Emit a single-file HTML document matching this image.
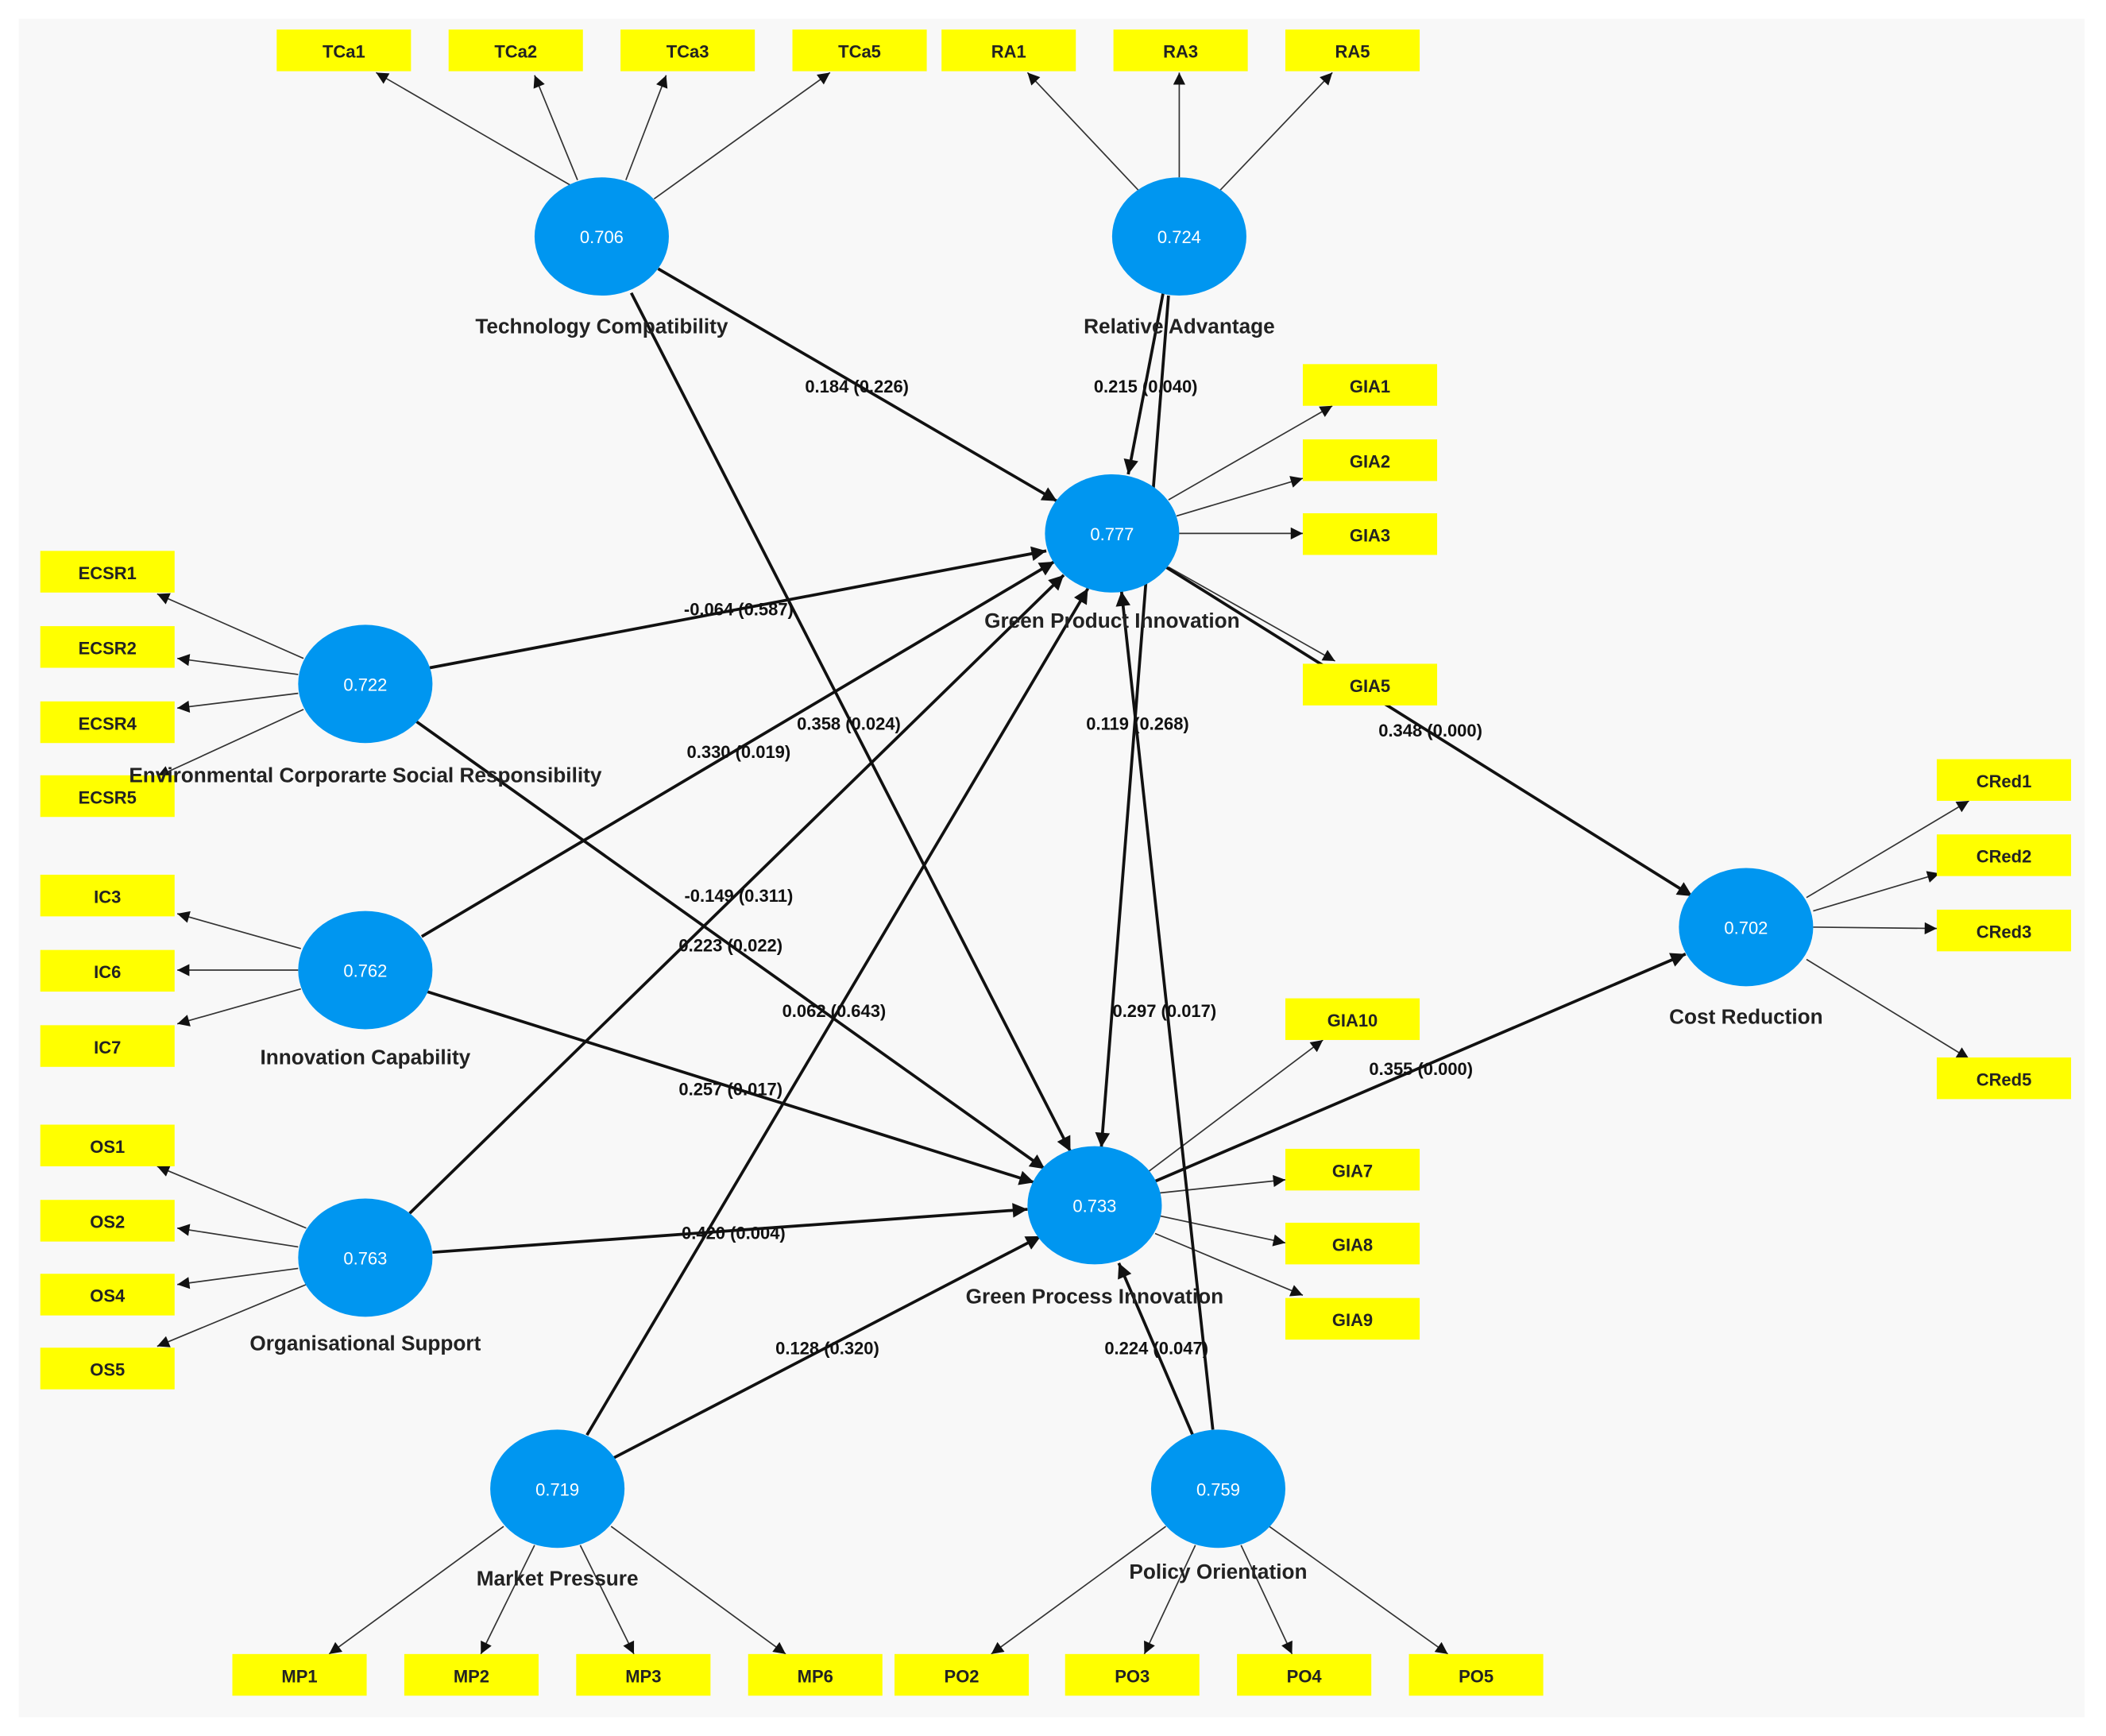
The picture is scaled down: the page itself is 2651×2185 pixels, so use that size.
<!DOCTYPE html>
<html><head><meta charset="utf-8">
<style>
html,body{margin:0;padding:0;background:#fff;}
svg{display:block;}
text{font-family:"Liberation Sans",Arial,sans-serif;}
.b{fill:#ffff00;}
.bt{font-size:13px;fill:#222;text-anchor:middle;font-weight:bold;}
.lbl{font-size:13px;fill:#111;text-anchor:middle;font-weight:bold;}
.nm{font-size:15.5px;fill:#222;text-anchor:middle;font-weight:bold;}
.val{font-size:13px;fill:#fff;text-anchor:middle;}
.th{stroke:#333;stroke-width:1;fill:none;}
.tk{stroke:#111;stroke-width:2.2;fill:none;}
</style></head><body>
<svg width="2651" height="2185" viewBox="0 0 1568 1292" preserveAspectRatio="none" xmlns="http://www.w3.org/2000/svg">
<defs>
<marker id="a" viewBox="0 0 10 10" refX="10" refY="5" markerWidth="11" markerHeight="9" markerUnits="userSpaceOnUse" orient="auto"><path d="M0,0 L10,5 L0,10 z" fill="#111"/></marker>
<marker id="A" viewBox="0 0 10 10" refX="10" refY="5" markerWidth="14" markerHeight="11" markerUnits="userSpaceOnUse" orient="auto"><path d="M0,0 L10,5 L0,10 z" fill="#111"/></marker>
</defs>
<rect x="0" y="0" width="1568" height="1292" fill="#fff"/>
<rect x="14" y="14" width="1538" height="1264" fill="#f8f8f8"/>

<!-- indicator lines -->
<g class="th" marker-end="url(#a)">
<line x1="425" y1="138" x2="280" y2="54"/>
<line x1="430" y1="134" x2="398" y2="56"/>
<line x1="466" y1="134" x2="496" y2="56"/>
<line x1="487" y1="148" x2="618" y2="54"/>
<line x1="848" y1="142" x2="765" y2="54"/>
<line x1="878" y1="132" x2="878" y2="54"/>
<line x1="908" y1="142" x2="992" y2="54"/>
<line x1="870" y1="372" x2="992" y2="302"/>
<line x1="876" y1="384" x2="970" y2="356"/>
<line x1="878" y1="397" x2="970" y2="397"/>
<line x1="870" y1="422" x2="994" y2="492"/>
<line x1="226" y1="490" x2="117" y2="442"/>
<line x1="222" y1="502" x2="132" y2="490"/>
<line x1="222" y1="516" x2="132" y2="527"/>
<line x1="226" y1="528" x2="117" y2="578"/>
<line x1="224" y1="706" x2="132" y2="680"/>
<line x1="222" y1="722" x2="132" y2="722"/>
<line x1="224" y1="736" x2="132" y2="762"/>
<line x1="228" y1="914" x2="117" y2="868"/>
<line x1="222" y1="928" x2="132" y2="914"/>
<line x1="222" y1="944" x2="132" y2="956"/>
<line x1="228" y1="956" x2="117" y2="1002"/>
<line x1="1345" y1="668" x2="1466" y2="596"/>
<line x1="1350" y1="678" x2="1444" y2="650"/>
<line x1="1350" y1="690" x2="1442" y2="691"/>
<line x1="1345" y1="714" x2="1466" y2="788"/>
<line x1="855" y1="872" x2="985" y2="774"/>
<line x1="862" y1="888" x2="957" y2="878"/>
<line x1="864" y1="905" x2="957" y2="925"/>
<line x1="860" y1="918" x2="970" y2="964"/>
<line x1="375" y1="1136" x2="245" y2="1231"/>
<line x1="398" y1="1150" x2="358" y2="1231"/>
<line x1="432" y1="1150" x2="472" y2="1231"/>
<line x1="455" y1="1136" x2="585" y2="1231"/>
<line x1="868" y1="1136" x2="738" y2="1231"/>
<line x1="890" y1="1150" x2="852" y2="1231"/>
<line x1="924" y1="1150" x2="962" y2="1231"/>
<line x1="945" y1="1136" x2="1078" y2="1231"/>
</g>

<!-- structural lines -->
<g class="tk" marker-end="url(#A)">
<line x1="490" y1="200" x2="787" y2="373"/>
<line x1="866" y1="218" x2="840" y2="353"/>
<line x1="320" y1="497" x2="779" y2="410"/>
<line x1="314" y1="697" x2="785" y2="418"/>
<line x1="305" y1="903" x2="792" y2="428"/>
<line x1="437" y1="1068" x2="810" y2="438"/>
<line x1="903" y1="1064" x2="835" y2="440"/>
<line x1="470" y1="218" x2="797" y2="857"/>
<line x1="870" y1="220" x2="820" y2="854"/>
<line x1="310" y1="537" x2="778" y2="870"/>
<line x1="318" y1="738" x2="770" y2="880"/>
<line x1="322" y1="932" x2="765" y2="900"/>
<line x1="455" y1="1086" x2="775" y2="920"/>
<line x1="888" y1="1068" x2="833" y2="940"/>
<line x1="868" y1="422" x2="1260" y2="667"/>
<line x1="858" y1="880" x2="1255" y2="710"/>
</g>

<!-- yellow boxes -->
<g>
<rect class="b" x="206" y="22" width="100" height="31"/><text class="bt" x="256" y="43">TCa1</text>
<rect class="b" x="334" y="22" width="100" height="31"/><text class="bt" x="384" y="43">TCa2</text>
<rect class="b" x="462" y="22" width="100" height="31"/><text class="bt" x="512" y="43">TCa3</text>
<rect class="b" x="590" y="22" width="100" height="31"/><text class="bt" x="640" y="43">TCa5</text>
<rect class="b" x="701" y="22" width="100" height="31"/><text class="bt" x="751" y="43">RA1</text>
<rect class="b" x="829" y="22" width="100" height="31"/><text class="bt" x="879" y="43">RA3</text>
<rect class="b" x="957" y="22" width="100" height="31"/><text class="bt" x="1007" y="43">RA5</text>
<rect class="b" x="970" y="271" width="100" height="31"/><text class="bt" x="1020" y="292">GIA1</text>
<rect class="b" x="970" y="327" width="100" height="31"/><text class="bt" x="1020" y="348">GIA2</text>
<rect class="b" x="970" y="382" width="100" height="31"/><text class="bt" x="1020" y="403">GIA3</text>
<rect class="b" x="970" y="494" width="100" height="31"/><text class="bt" x="1020" y="515">GIA5</text>
<rect class="b" x="30" y="410" width="100" height="31"/><text class="bt" x="80" y="431">ECSR1</text>
<rect class="b" x="30" y="466" width="100" height="31"/><text class="bt" x="80" y="487">ECSR2</text>
<rect class="b" x="30" y="522" width="100" height="31"/><text class="bt" x="80" y="543">ECSR4</text>
<rect class="b" x="30" y="577" width="100" height="31"/><text class="bt" x="80" y="598">ECSR5</text>
<rect class="b" x="30" y="651" width="100" height="31"/><text class="bt" x="80" y="672">IC3</text>
<rect class="b" x="30" y="707" width="100" height="31"/><text class="bt" x="80" y="728">IC6</text>
<rect class="b" x="30" y="763" width="100" height="31"/><text class="bt" x="80" y="784">IC7</text>
<rect class="b" x="30" y="837" width="100" height="31"/><text class="bt" x="80" y="858">OS1</text>
<rect class="b" x="30" y="893" width="100" height="31"/><text class="bt" x="80" y="914">OS2</text>
<rect class="b" x="30" y="948" width="100" height="31"/><text class="bt" x="80" y="969">OS4</text>
<rect class="b" x="30" y="1003" width="100" height="31"/><text class="bt" x="80" y="1024">OS5</text>
<rect class="b" x="1442" y="565" width="100" height="31"/><text class="bt" x="1492" y="586">CRed1</text>
<rect class="b" x="1442" y="621" width="100" height="31"/><text class="bt" x="1492" y="642">CRed2</text>
<rect class="b" x="1442" y="677" width="100" height="31"/><text class="bt" x="1492" y="698">CRed3</text>
<rect class="b" x="1442" y="787" width="100" height="31"/><text class="bt" x="1492" y="808">CRed5</text>
<rect class="b" x="957" y="743" width="100" height="31"/><text class="bt" x="1007" y="764">GIA10</text>
<rect class="b" x="957" y="855" width="100" height="31"/><text class="bt" x="1007" y="876">GIA7</text>
<rect class="b" x="957" y="910" width="100" height="31"/><text class="bt" x="1007" y="931">GIA8</text>
<rect class="b" x="957" y="966" width="100" height="31"/><text class="bt" x="1007" y="987">GIA9</text>
<rect class="b" x="173" y="1231" width="100" height="31"/><text class="bt" x="223" y="1252">MP1</text>
<rect class="b" x="301" y="1231" width="100" height="31"/><text class="bt" x="351" y="1252">MP2</text>
<rect class="b" x="429" y="1231" width="100" height="31"/><text class="bt" x="479" y="1252">MP3</text>
<rect class="b" x="557" y="1231" width="100" height="31"/><text class="bt" x="607" y="1252">MP6</text>
<rect class="b" x="666" y="1231" width="100" height="31"/><text class="bt" x="716" y="1252">PO2</text>
<rect class="b" x="793" y="1231" width="100" height="31"/><text class="bt" x="843" y="1252">PO3</text>
<rect class="b" x="921" y="1231" width="100" height="31"/><text class="bt" x="971" y="1252">PO4</text>
<rect class="b" x="1049" y="1231" width="100" height="31"/><text class="bt" x="1099" y="1252">PO5</text>
</g>

<!-- nodes -->
<g fill="#0096f0">
<ellipse cx="448" cy="176" rx="50" ry="44"/>
<ellipse cx="878" cy="176" rx="50" ry="44"/>
<ellipse cx="828" cy="397" rx="50" ry="44"/>
<ellipse cx="272" cy="509" rx="50" ry="44"/>
<ellipse cx="272" cy="722" rx="50" ry="44"/>
<ellipse cx="272" cy="936" rx="50" ry="44"/>
<ellipse cx="815" cy="897" rx="50" ry="44"/>
<ellipse cx="1300" cy="690" rx="50" ry="44"/>
<ellipse cx="415" cy="1108" rx="50" ry="44"/>
<ellipse cx="907" cy="1108" rx="50" ry="44"/>
</g>
<g class="val">
<text class="val" x="448" y="181">0.706</text>
<text class="val" x="878" y="181">0.724</text>
<text class="val" x="828" y="402">0.777</text>
<text class="val" x="272" y="514">0.722</text>
<text class="val" x="272" y="727">0.762</text>
<text class="val" x="272" y="941">0.763</text>
<text class="val" x="815" y="902">0.733</text>
<text class="val" x="1300" y="695">0.702</text>
<text class="val" x="415" y="1113">0.719</text>
<text class="val" x="907" y="1113">0.759</text>
</g>

<!-- node names -->
<text class="nm" x="448" y="248">Technology Compatibility</text>
<text class="nm" x="878" y="248">Relative Advantage</text>
<text class="nm" x="828" y="467">Green Product Innovation</text>
<text class="nm" x="272" y="582">Environmental Corporarte Social Responsibility</text>
<text class="nm" x="272" y="792">Innovation Capability</text>
<text class="nm" x="272" y="1005">Organisational Support</text>
<text class="nm" x="815" y="970">Green Process Innovation</text>
<text class="nm" x="1300" y="762">Cost Reduction</text>
<text class="nm" x="415" y="1180">Market Pressure</text>
<text class="nm" x="907" y="1175">Policy Orientation</text>

<!-- path labels -->
<text class="lbl" x="638" y="292">0.184 (0.226)</text>
<text class="lbl" x="853" y="292">0.215 (0.040)</text>
<text class="lbl" x="550" y="458">-0.064 (0.587)</text>
<text class="lbl" x="632" y="543">0.358 (0.024)</text>
<text class="lbl" x="550" y="564">0.330 (0.019)</text>
<text class="lbl" x="847" y="543">0.119 (0.268)</text>
<text class="lbl" x="1065" y="548">0.348 (0.000)</text>
<text class="lbl" x="550" y="671">-0.149 (0.311)</text>
<text class="lbl" x="544" y="708">0.223 (0.022)</text>
<text class="lbl" x="621" y="757">0.062 (0.643)</text>
<text class="lbl" x="867" y="757">0.297 (0.017)</text>
<text class="lbl" x="1058" y="800">0.355 (0.000)</text>
<text class="lbl" x="544" y="815">0.257 (0.017)</text>
<text class="lbl" x="544" y="922">-0.420 (0.004)</text>
<text class="lbl" x="616" y="1008">0.128 (0.320)</text>
<text class="lbl" x="861" y="1008">0.224 (0.047)</text>
</svg>
</body></html>
